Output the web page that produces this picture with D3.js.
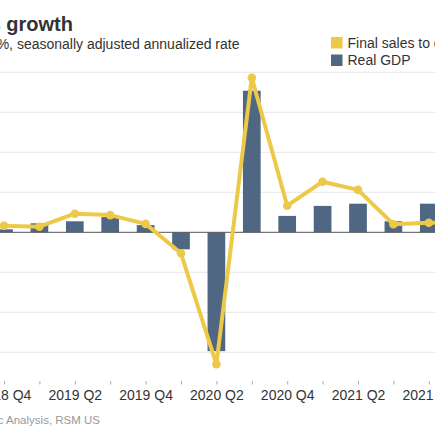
<!DOCTYPE html>
<html>
<head>
<meta charset="utf-8">
<script src="https://cdn.jsdelivr.net/npm/d3@7"></script>
<style>
  html, body { margin: 0; padding: 0; background: #fff; overflow: hidden; }
  svg { display: block; font-family: "Liberation Sans", Arial, sans-serif; }
</style>
</head>
<body>
<script>
const quarters = ["2018 Q3","2018 Q4","2019 Q1","2019 Q2","2019 Q3","2019 Q4","2020 Q1","2020 Q2","2020 Q3","2020 Q4","2021 Q1","2021 Q2","2021 Q3","2021 Q4","2022 Q1"];
const realGDP = [null, 0.75, 2.25, 2.75, 3.8, 1.8, -4.25, -29.7, 35.4, 4.1, 6.6, 7.15, 2.75, 7.15, null];
const finalSales = [1.7, 1.65, 1.4, 4.65, 4.3, 2.1, -5.25, -33, 38.65, 6.65, 12.65, 10.6, 2.0, 2.4, 2.5];
const yTicks = [-30, -20, -10, 0, 10, 20, 30, 40];
const seriesNames = ["Final sales to domestic purchasers", "Real GDP"];
const colors = { line: "#edc948", bar: "#4f6782" };

const W = 435, H = 435;
const svg = d3.select("body").append("svg").attr("width", W).attr("height", H);

const x = d3.scalePoint().domain(quarters).range([-31.4, 464.2]);
const step = x.step();
const barW = step * 0.5;
const y = d3.scaleLinear().domain([-30, 40]).range([352.3, 72.3]);

// gridlines
svg.append("g").selectAll("line").data(yTicks.filter(d => d !== 0)).join("line")
  .attr("x1", 0).attr("x2", W)
  .attr("y1", d => y(d)).attr("y2", d => y(d))
  .attr("stroke", "#e6e6e6").attr("stroke-width", 1);

// bars
const barData = quarters.map((q, i) => ({ q, v: realGDP[i] })).filter(d => d.v !== null);
svg.append("g").selectAll("rect").data(barData).join("rect")
  .attr("x", d => x(d.q) - barW / 2)
  .attr("width", barW)
  .attr("y", d => y(Math.max(0, d.v)))
  .attr("height", d => Math.abs(y(d.v) - y(0)))
  .attr("fill", colors.bar);

// zero line
svg.append("line").attr("x1", 0).attr("x2", W)
  .attr("y1", y(0)).attr("y2", y(0))
  .attr("stroke", "#555").attr("stroke-width", 1);

// line
const lineData = quarters.map((q, i) => ({ q, v: finalSales[i] }));
svg.append("path").datum(lineData)
  .attr("fill", "none").attr("stroke", colors.line).attr("stroke-width", 4)
  .attr("stroke-linejoin", "round")
  .attr("d", d3.line().x(d => x(d.q)).y(d => y(d.v)));
svg.append("g").selectAll("circle").data(lineData).join("circle")
  .attr("cx", d => x(d.q)).attr("cy", d => y(d.v)).attr("r", 4.3)
  .attr("fill", colors.line);

// x axis
const xAxis = d3.axisBottom(x)
  .tickSize(3.5).tickPadding(5.5)
  .tickFormat(d => (d.endsWith("Q2") || d.endsWith("Q4")) ? d : "");
const gx = svg.append("g").attr("transform", "translate(0,381)").call(xAxis);
gx.select(".domain").remove();
gx.selectAll(".tick line").attr("stroke", "#aaa");
gx.selectAll(".tick text").attr("fill", "#333").style("font-size", "14px")
  .style("font-family", "'Liberation Sans', Arial, sans-serif");

// title & subtitle
svg.append("text").attr("x", 73).attr("y", 30.5).attr("text-anchor", "end")
  .attr("fill", "#333").style("font-size", "20px").style("font-weight", "bold")
  .text("Real GDP and final sales growth");
svg.append("text").attr("x", 239.5).attr("y", 49).attr("text-anchor", "end")
  .attr("fill", "#333").style("font-size", "14px")
  .text("Quarterly change in %, seasonally adjusted annualized rate");

// legend
const legend = svg.append("g");
const legItems = [{ name: seriesNames[0], c: colors.line, yb: 47.5 }, { name: seriesNames[1], c: colors.bar, yb: 65 }];
legItems.forEach(it => {
  legend.append("rect").attr("x", 331).attr("y", it.yb - 10.5).attr("width", 11.5).attr("height", 11.5).attr("fill", it.c);
  legend.append("text").attr("x", 347.5).attr("y", it.yb).attr("fill", "#333")
    .style("font-size", "14px").text(it.name);
});

// source
svg.append("text").attr("x", 100).attr("y", 424).attr("text-anchor", "end")
  .attr("fill", "#999").style("font-size", "11.5px")
  .text("Source: Bureau of Economic Analysis, RSM US");
</script>
</body>
</html>
